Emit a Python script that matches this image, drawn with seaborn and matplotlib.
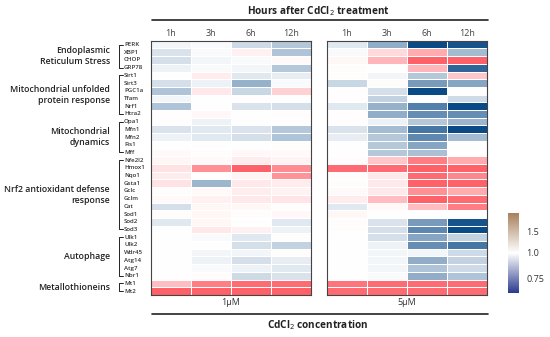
import numpy as np
import pandas as pd
import matplotlib as mpl
import matplotlib.pyplot as plt
import seaborn as sns
from matplotlib import transforms
from matplotlib.colors import LinearSegmentedColormap, TwoSlopeNorm
from matplotlib.lines import Line2D

hours = ["1h", "3h", "6h", "12h"]
doses = ["1μM", "5μM"]

genes = ["PERK", "XBP1", "CHOP", "GRP78",
         "Sirt1", "Sirt3", "PGC1a", "Tfam", "Nrf1", "Htra2",
         "Opa1", "Mfn1", "Mfn2", "Fis1", "Mff",
         "Nfe2l2", "Hmox1", "Nqo1", "Gsta1", "Gclc", "Gclm", "Cat", "Sod1", "Sod2", "Sod3",
         "Ulk1", "Ulk2", "Wdr45", "Atg14", "Atg7", "Nbr1",
         "Mt1", "Mt2"]

group_names = ["Endoplasmic\nReticulum Stress",
               "Mitochondrial unfolded\nprotein response",
               "Mitochondrial\ndynamics",
               "Nrf2 antioxidant defense\nresponse",
               "Autophage",
               "Metallothioneins"]
group_sizes = [4, 6, 5, 10, 6, 2]

# fold change vs control, columns = 1h, 3h, 6h, 12h
fc_1uM = [
    [0.98, 0.99, 0.92, 0.88],
    [0.94, 0.99, 1.08, 0.87],
    [0.93, 0.98, 0.99, 1.03],
    [0.97, 0.99, 0.98, 0.88],
    [1.00, 1.10, 0.95, 0.96],
    [0.93, 0.97, 0.83, 0.99],
    [0.87, 1.12, 0.91, 1.25],
    [0.98, 1.00, 1.01, 1.00],
    [0.87, 1.00, 0.94, 0.93],
    [1.01, 1.04, 1.00, 1.02],
    [1.00, 0.97, 1.00, 1.01],
    [0.94, 0.95, 0.94, 0.88],
    [0.97, 0.95, 0.93, 0.87],
    [1.00, 1.00, 1.00, 1.02],
    [1.03, 1.02, 1.04, 1.03],
    [1.05, 1.03, 1.10, 1.06],
    [1.15, 1.60, 1.85, 1.62],
    [1.10, 1.00, 1.06, 1.58],
    [1.15, 0.84, 1.12, 1.10],
    [1.02, 1.03, 1.10, 1.07],
    [1.03, 1.08, 1.12, 1.14],
    [0.93, 1.05, 1.05, 1.02],
    [1.02, 1.05, 1.02, 1.04],
    [0.95, 1.05, 1.00, 0.95],
    [1.00, 1.12, 1.08, 0.97],
    [1.00, 0.99, 0.95, 1.02],
    [1.00, 1.00, 0.93, 0.90],
    [1.00, 0.98, 0.98, 1.02],
    [1.00, 0.97, 0.93, 0.96],
    [1.00, 0.99, 0.97, 0.95],
    [1.00, 1.02, 0.92, 0.94],
    [1.35, 1.70, 1.80, 1.80],
    [1.85, 1.85, 1.85, 1.85],
]

fc_5uM = [
    [0.95, 0.82, 0.60, 0.62],
    [0.99, 1.20, 1.45, 0.85],
    [1.05, 1.40, 1.85, 1.85],
    [1.02, 1.00, 1.40, 0.66],
    [1.02, 0.98, 0.88, 1.30],
    [0.91, 1.02, 0.78, 0.80],
    [1.01, 0.93, 0.60, 1.00],
    [1.01, 0.90, 1.00, 0.92],
    [0.95, 0.83, 0.72, 0.60],
    [1.01, 0.82, 0.75, 0.75],
    [1.01, 0.97, 0.88, 0.84],
    [0.94, 0.85, 0.70, 0.60],
    [0.96, 0.88, 0.74, 0.85],
    [1.00, 0.88, 0.80, 1.00],
    [1.01, 0.88, 0.86, 1.01],
    [1.02, 1.30, 1.70, 1.45],
    [1.80, 1.80, 1.85, 1.85],
    [1.02, 1.12, 1.80, 1.65],
    [1.02, 1.12, 1.85, 1.85],
    [1.03, 1.12, 1.60, 1.45],
    [1.10, 1.35, 1.85, 1.80],
    [0.95, 1.04, 1.35, 1.70],
    [1.05, 1.00, 1.00, 1.00],
    [1.02, 0.94, 0.78, 0.62],
    [1.02, 0.93, 0.74, 0.58],
    [1.00, 0.93, 0.80, 0.90],
    [1.00, 0.97, 0.75, 0.70],
    [1.00, 0.98, 0.98, 0.92],
    [1.00, 0.98, 0.82, 0.90],
    [1.00, 0.98, 0.87, 0.92],
    [1.00, 0.99, 0.82, 0.87],
    [1.75, 1.80, 1.80, 1.80],
    [1.80, 1.80, 1.80, 1.80],
]

sns.set_style("white")
plt.rcParams["font.family"] = ["Open Sans", "DejaVu Sans"]

heat_cmap = LinearSegmentedColormap.from_list("heat", ["#0a4a86", "#ffffff", "#ff4f58"])
cbar_cmap = LinearSegmentedColormap.from_list("bar", ["#2a3a8c", "#ffffff", "#a8805e"])
norm = TwoSlopeNorm(vmin=0.6, vcenter=1.0, vmax=1.95)

W, H = 550, 337
fig = plt.figure(figsize=(W / 100, H / 100), dpi=100)

def fbox(x0, y0, x1, y1):
    return [x0 / W, 1 - y1 / H, (x1 - x0) / W, (y1 - y0) / H]

ax1 = fig.add_axes(fbox(151, 40.7, 311, 295))
ax2 = fig.add_axes(fbox(327, 40.7, 487, 295))

for ax, data, dose in [(ax1, fc_1uM, doses[0]), (ax2, fc_5uM, doses[1])]:
    df = pd.DataFrame(data, index=genes, columns=hours)
    sns.heatmap(df, ax=ax, cmap=heat_cmap, norm=norm, cbar=False,
                linewidths=0.4, linecolor="white",
                xticklabels=True, yticklabels=(ax is ax1))
    for s in ax.spines.values():
        s.set_visible(True)
        s.set_color("#444444")
        s.set_linewidth(0.8)
    ax.xaxis.tick_top()
    ax.tick_params(axis="x", length=0, labelsize=6.5, pad=2, colors="#444444")
    plt.setp(ax.get_xticklabels(), rotation=0)
    ax.set_xlabel("")
    ax.set_ylabel("")
    ax.text(0.5, -0.012, dose, transform=ax.transAxes, ha="center", va="top",
            fontsize=6.5, color="#333333")

ax2.set_yticks([])
ax1.tick_params(axis="y", length=0, pad=19.4)
for t in ax1.get_yticklabels():
    t.set_horizontalalignment("left")
    t.set_rotation(0)
    t.set_fontsize(4.4)
    t.set_fontweight("semibold")
    t.set_color("#333333")

# group brackets and labels
trans = transforms.blended_transform_factory(ax1.transAxes, ax1.transData)
xv, xh = (118.5 - 151) / 160, (122.5 - 151) / 160
start = 0
for name, n in zip(group_names, group_sizes):
    end = start + n - 1
    ax1.plot([xh, xv, xv, xh], [start + 0.5, start + 0.5, end + 0.5, end + 0.5],
             transform=trans, clip_on=False, color="#222222", lw=0.7)
    ax1.text(-0.256, (start + end) / 2 + 0.5, name, transform=trans,
             ha="right", va="center", fontsize=6.3, fontweight="semibold",
             linespacing=1.3, color="#222222")
    start = end + 1

# header / footer
fig.add_artist(Line2D([152 / W, 488 / W], [1 - 19.5 / H] * 2, color="#222222", lw=1.2))
fig.text(318 / W, 1 - 11 / H, "Hours after CdCl$_2$ treatment", ha="center", va="center",
         fontsize=7.2, fontweight="bold", color="#222222")
fig.add_artist(Line2D([152 / W, 488 / W], [1 - 314 / H] * 2, color="#222222", lw=1.2))
fig.text(318 / W, 1 - 325 / H, "CdCl$_2$ concentration", ha="center", va="center",
         fontsize=7.2, fontweight="bold", color="#222222")

# colorbar
cax = fig.add_axes(fbox(508, 213, 519, 293))
cb = fig.colorbar(mpl.cm.ScalarMappable(norm=norm, cmap=cbar_cmap), cax=cax,
                  ticks=[0.75, 1.0, 1.5])
cb.ax.set_yticklabels(["0.75", "1.0", "1.5"])
cb.outline.set_visible(False)
cb.ax.tick_params(length=0, labelsize=6.5, pad=5.5, colors="#333333")

fig.savefig("out.png", dpi=100)
